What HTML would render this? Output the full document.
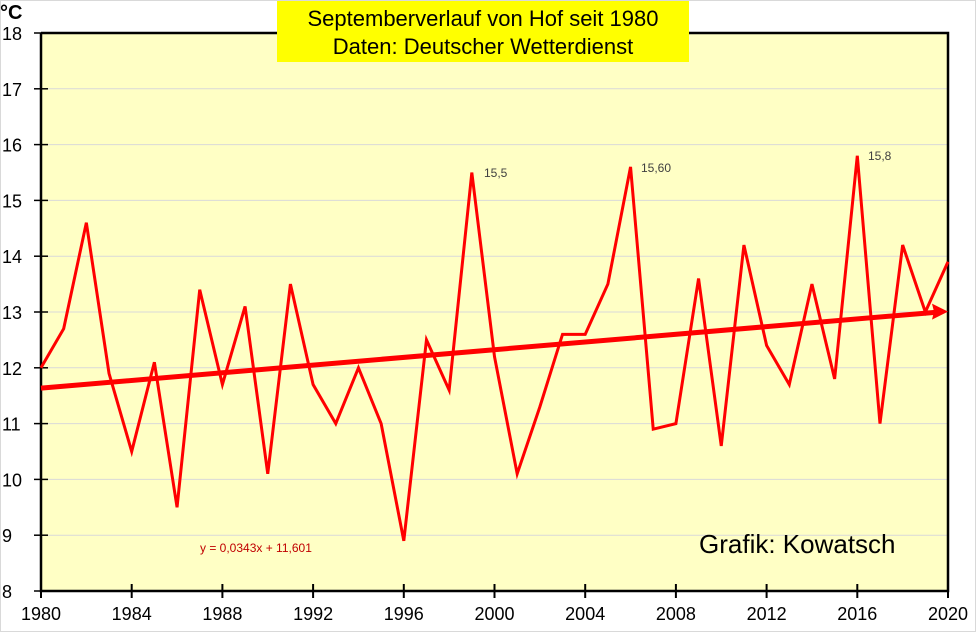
<!DOCTYPE html>
<html><head><meta charset="utf-8"><style>
body{margin:0;background:#fff;width:976px;height:632px;overflow:hidden;font-family:"Liberation Sans",sans-serif}
</style></head><body>
<svg width="976" height="632" xmlns="http://www.w3.org/2000/svg">
<rect x="0.5" y="0.5" width="975" height="631" fill="#fff" stroke="#d9d9d9"/>
<rect x="41" y="33" width="907" height="558" fill="#ffffc5"/>
<g id="grid"></g>
<g id="ticks"></g>
<g id="series"></g>
<rect x="277" y="1" width="412" height="61" fill="#ffff00"/>
<text x="483" y="26" font-size="22" text-anchor="middle">Septemberverlauf von Hof seit 1980</text>
<text x="483" y="54" font-size="22" text-anchor="middle">Daten: Deutscher Wetterdienst</text>
<text x="0" y="19" font-size="20" font-weight="bold">°C</text>
<text x="699" y="553" font-size="26">Grafik: Kowatsch</text>
<text x="200" y="552" font-size="12" fill="#c00000">y = 0,0343x + 11,601</text>
<text x="484" y="177" font-size="12" fill="#404040">15,5</text>
<text x="641" y="172" font-size="12" fill="#404040">15,60</text>
<text x="868" y="160" font-size="12" fill="#404040">15,8</text>
</svg>
<script>
const years=[1980,1981,1982,1983,1984,1985,1986,1987,1988,1989,1990,1991,1992,1993,1994,1995,1996,1997,1998,1999,2000,2001,2002,2003,2004,2005,2006,2007,2008,2009,2010,2011,2012,2013,2014,2015,2016,2017,2018,2019,2020];
const temps=[12.0,12.7,14.6,11.9,10.5,12.1,9.5,13.4,11.7,13.1,10.1,13.5,11.7,11.0,12.0,11.0,8.9,12.5,11.6,15.5,12.2,10.1,11.3,12.6,12.6,13.5,15.6,10.9,11.0,13.6,10.6,14.2,12.4,11.7,13.5,11.8,15.8,11.0,14.2,13.0,13.9];
const yTicks=[8,9,10,11,12,13,14,15,16,17,18];
const xTicks=[1980,1984,1988,1992,1996,2000,2004,2008,2012,2016,2020];
const trendSlope=0.0343, trendIntercept=11.601;
const NS='http://www.w3.org/2000/svg';
const X=v=>41+(v-1980)*(907/40);
const Y=v=>591-(v-8)*55.8;
function mk(t,a,p){const e=document.createElementNS(NS,t);for(const k in a)e.setAttribute(k,a[k]);document.getElementById(p).appendChild(e);return e;}
yTicks.forEach(v=>{
  if(v>8&&v<18){const g=mk('line',{x1:41,x2:948,y1:Y(v),y2:Y(v),stroke:'#d9d9d9','stroke-width':1},'grid');
  
  }
  const t=mk('line',{x1:34,x2:48,y1:Y(v),y2:Y(v),stroke:'#000','stroke-width':1.5},'ticks');
  
  
  const l=mk('text',{x:2,y:Y(v)+7,'font-size':18},'ticks');l.textContent=v;
  
  
});
xTicks.forEach(v=>{
  const t=mk('line',{x1:X(v),x2:X(v),y1:584,y2:598,stroke:'#000','stroke-width':2},'ticks');
  
  
  const l=mk('text',{x:X(v),y:620,'font-size':18,'text-anchor':'middle'},'ticks');l.textContent=v;
  
  
});
const ax=mk('path',{d:'M41 33V591H948V33H41',fill:'none',stroke:'#000','stroke-width':2.5},'ticks');


const pl=mk('polyline',{points:years.map((y,i)=>X(y)+','+Y(temps[i])).join(' '),fill:'none',stroke:'#ff0000','stroke-width':3,'stroke-linejoin':'miter'},'series');


const x0=years[0],x1=years[years.length-1];
const t0=trendIntercept+trendSlope*1,t1=trendIntercept+trendSlope*years.length;
const tl=mk('line',{x1:X(x0),y1:Y(t0),x2:X(x1)-10,y2:Y(t1)+0.5,stroke:'#ff0000','stroke-width':5},'series');


const ex=X(x1),ey=Y(t1);
const ar=mk('polygon',{points:`${ex},${ey} ${ex-16},${ey-8} ${ex-14},${ey} ${ex-16},${ey+8}`,fill:'#ff0000'},'series');


</script>
</body></html>
